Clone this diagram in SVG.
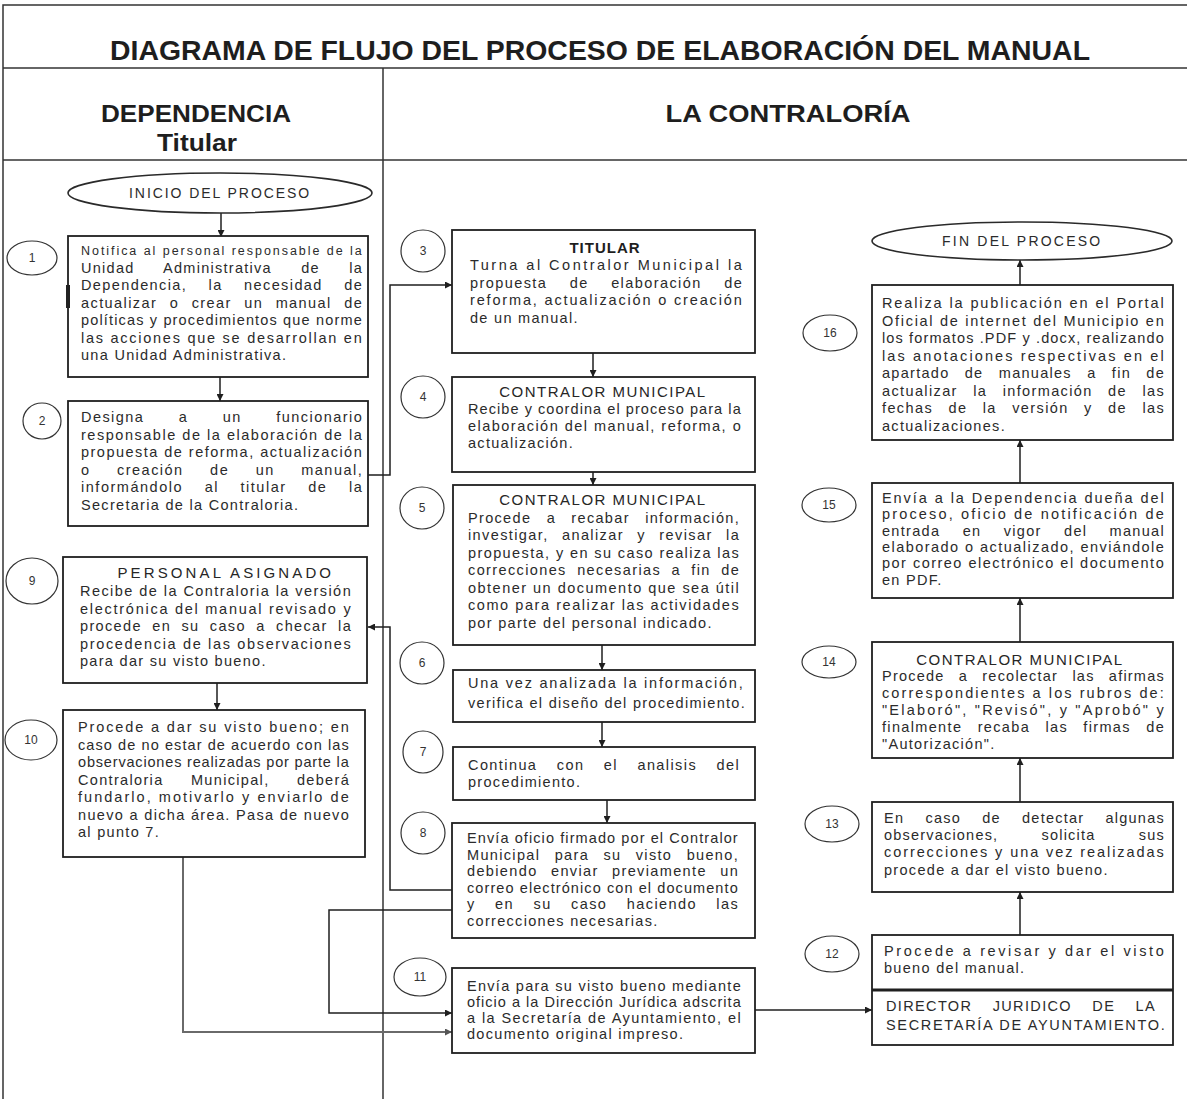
<svg xmlns="http://www.w3.org/2000/svg" width="1187" height="1099" viewBox="0 0 1187 1099">
<style>
.t{font-family:"Liberation Sans",Arial,sans-serif;font-size:14.5px;letter-spacing:1.3px;fill:#2b2b2b}
.ttl{font-family:"Liberation Sans",Arial,sans-serif;font-size:15px;letter-spacing:1.5px;fill:#262626;text-anchor:middle}
.h{font-family:"Liberation Sans",Arial,sans-serif;font-weight:bold;fill:#1e1e1e;text-anchor:middle}
.box{fill:#fff;stroke:#1f1f1f;stroke-width:1.8}
.ell{fill:#fff;stroke:#2a2a2a;stroke-width:1.6}
.circ{fill:none;stroke:#333;stroke-width:1.2}
.num{font-family:"Liberation Sans",Arial,sans-serif;font-size:12px;fill:#333;text-anchor:middle}
.conn{fill:none;stroke:#1f1f1f;stroke-width:1.5}
.gray{fill:none;stroke:#6a6a6a;stroke-width:2}
.frame{fill:none;stroke:#333;stroke-width:1.5}
</style>
<defs>
<marker id="ah" viewBox="0 0 10 10" refX="10" refY="5" markerWidth="7" markerHeight="7" markerUnits="userSpaceOnUse" orient="auto"><path d="M0,0 L10,5 L0,10 z" fill="#1f1f1f"/></marker>
<marker id="ahg" viewBox="0 0 10 10" refX="10" refY="5" markerWidth="7" markerHeight="7" markerUnits="userSpaceOnUse" orient="auto"><path d="M0,0 L10,5 L0,10 z" fill="#555"/></marker>
</defs>
<rect width="1187" height="1099" fill="#fff"/>

<g id="frame">
<rect class="frame" x="3" y="5" width="1200" height="1100"/>
<line class="frame" x1="3" y1="68" x2="1187" y2="68"/>
<line class="frame" x1="3" y1="160" x2="1187" y2="160"/>
<line class="frame" x1="383" y1="68" x2="383" y2="1099"/>
<text class="h" x="600" y="60" style="font-size:28px" textLength="980" lengthAdjust="spacingAndGlyphs">DIAGRAMA DE FLUJO DEL PROCESO DE ELABORACIÓN DEL MANUAL</text>
<text class="h" x="196" y="122" style="font-size:23px" textLength="190" lengthAdjust="spacingAndGlyphs">DEPENDENCIA</text>
<text class="h" x="197" y="151" style="font-size:23px" textLength="80" lengthAdjust="spacingAndGlyphs">Titular</text>
<text class="h" x="788" y="122" style="font-size:23px" textLength="245" lengthAdjust="spacingAndGlyphs">LA CONTRALORÍA</text>
</g>

<g id="connectors">
<path class="conn" d="M221,213 V237" marker-end="url(#ah)"/>
<path class="conn" d="M220,377 V401" marker-end="url(#ah)"/>
<path class="conn" d="M368,475 H390 V285 H452" marker-end="url(#ah)"/>
<path class="conn" d="M593,353 V377" marker-end="url(#ah)"/>
<path class="conn" d="M593,472 V485" marker-end="url(#ah)"/>
<path class="conn" d="M602,645 V670" marker-end="url(#ah)"/>
<path class="conn" d="M602,722 V747" marker-end="url(#ah)"/>
<path class="conn" d="M607,800 V823" marker-end="url(#ah)"/>
<path class="conn" d="M452,890 H390 V627 H368" marker-end="url(#ah)"/>
<path class="conn" d="M217,683 V710" marker-end="url(#ah)"/>
<path class="conn" d="M452,910 H329 V1013 H452" marker-end="url(#ah)"/>
<path class="gray" d="M183,857 V1032 H452" marker-end="url(#ahg)"/>
<path class="conn" d="M755,1010 H872" marker-end="url(#ah)"/>
<path class="conn" d="M1020,935 V892" marker-end="url(#ah)"/>
<path class="conn" d="M1020,802 V758" marker-end="url(#ah)"/>
<path class="conn" d="M1020,642 V598" marker-end="url(#ah)"/>
<path class="conn" d="M1020,483 V440" marker-end="url(#ah)"/>
<path class="conn" d="M1020,285 V260" marker-end="url(#ah)"/>
</g>

<g id="inicio">
<ellipse class="ell" cx="220" cy="193" rx="152" ry="20"/>
<text class="t" x="220" y="198" style="text-anchor:middle;letter-spacing:1.8px;font-size:14px" textLength="182" lengthAdjust="spacing">INICIO DEL PROCESO</text>
</g>

<g id="n1">
<ellipse class="circ" cx="32" cy="258" rx="25" ry="17"/><text class="num" x="32" y="262">1</text>
<rect class="box" x="68" y="236" width="300" height="141"/>
<rect x="66" y="285" width="4" height="23" fill="#222"/>
<text class="t" x="81" y="255" style="font-size:12.5px" textLength="282" lengthAdjust="spacing">Notifica al personal responsable de la</text>
<text class="t" x="81" y="272.5" style="word-spacing:24px" textLength="282" lengthAdjust="spacing">Unidad Administrativa de la</text>
<text class="t" x="81" y="290" style="word-spacing:16px" textLength="282" lengthAdjust="spacing">Dependencia, la necesidad de</text>
<text class="t" x="81" y="307.5" style="word-spacing:7px" textLength="282" lengthAdjust="spacing">actualizar o crear un manual de</text>
<text class="t" x="81" y="325" textLength="282" lengthAdjust="spacing">políticas y procedimientos que norme</text>
<text class="t" x="81" y="342.5" textLength="282" lengthAdjust="spacing">las acciones que se desarrollan en</text>
<text class="t" x="81" y="360">una Unidad Administrativa.</text>
</g>

<g id="n2">
<ellipse class="circ" cx="42" cy="421" rx="19" ry="18"/><text class="num" x="42" y="425">2</text>
<rect class="box" x="68" y="401" width="300" height="125"/>
<text class="t" x="81" y="422" style="word-spacing:29px" textLength="282" lengthAdjust="spacing">Designa a un funcionario</text>
<text class="t" x="81" y="439.5" textLength="282" lengthAdjust="spacing">responsable de la elaboración de la</text>
<text class="t" x="81" y="457" textLength="282" lengthAdjust="spacing">propuesta de reforma, actualización</text>
<text class="t" x="81" y="474.5" style="word-spacing:21px" textLength="282" lengthAdjust="spacing">o creación de un manual,</text>
<text class="t" x="81" y="492" style="word-spacing:16px" textLength="282" lengthAdjust="spacing">informándolo al titular de la</text>
<text class="t" x="81" y="509.5">Secretaria de la Contraloria.</text>
</g>

<g id="n9">
<ellipse class="circ" cx="32" cy="581" rx="26" ry="23"/><text class="num" x="32" y="585">9</text>
<rect class="box" x="63" y="557" width="304" height="126"/>
<text class="ttl" x="225" y="578" textLength="215" lengthAdjust="spacing">PERSONAL ASIGNADO</text>
<text class="t" x="80" y="596" textLength="272" lengthAdjust="spacing">Recibe de la Contraloria la versión</text>
<text class="t" x="80" y="613.5" textLength="272" lengthAdjust="spacing">electrónica del manual revisado y</text>
<text class="t" x="80" y="631" style="word-spacing:5px" textLength="272" lengthAdjust="spacing">procede en su caso a checar la</text>
<text class="t" x="80" y="648.5" textLength="272" lengthAdjust="spacing">procedencia de las observaciones</text>
<text class="t" x="80" y="666">para dar su visto bueno.</text>
</g>

<g id="n10">
<ellipse class="circ" cx="31" cy="740" rx="26" ry="20"/><text class="num" x="31" y="744">10</text>
<rect class="box" x="63" y="710" width="302" height="147"/>
<text class="t" x="78" y="732" textLength="272" lengthAdjust="spacing">Procede a dar su visto bueno; en</text>
<text class="t" x="78" y="749.5" textLength="272" lengthAdjust="spacing">caso de no estar de acuerdo con las</text>
<text class="t" x="78" y="767" textLength="272" lengthAdjust="spacing">observaciones realizadas por parte la</text>
<text class="t" x="78" y="784.5" style="word-spacing:22px" textLength="272" lengthAdjust="spacing">Contraloria Municipal, deberá</text>
<text class="t" x="78" y="802" textLength="272" lengthAdjust="spacing">fundarlo, motivarlo y enviarlo de</text>
<text class="t" x="78" y="819.5" textLength="272" lengthAdjust="spacing">nuevo a dicha área. Pasa de nuevo</text>
<text class="t" x="78" y="837">al punto 7.</text>
</g>

<g id="n3">
<ellipse class="circ" cx="423" cy="251" rx="22" ry="21"/><text class="num" x="423" y="255">3</text>
<rect class="box" x="452" y="230" width="303" height="123"/>
<text class="h" x="605" y="253" style="font-size:15px;letter-spacing:1px">TITULAR</text>
<text class="t" x="470" y="270" textLength="273" lengthAdjust="spacing">Turna al Contralor Municipal la</text>
<text class="t" x="470" y="287.5" style="word-spacing:17px" textLength="273" lengthAdjust="spacing">propuesta de elaboración de</text>
<text class="t" x="470" y="305" textLength="273" lengthAdjust="spacing">reforma, actualización o creación</text>
<text class="t" x="470" y="322.5">de un manual.</text>
</g>

<g id="n4">
<ellipse class="circ" cx="423" cy="397" rx="22" ry="21"/><text class="num" x="423" y="401">4</text>
<rect class="box" x="452" y="377" width="303" height="95"/>
<text class="ttl" x="603" y="397">CONTRALOR MUNICIPAL</text>
<text class="t" x="468" y="414" textLength="274" lengthAdjust="spacing">Recibe y coordina el proceso para la</text>
<text class="t" x="468" y="431" textLength="274" lengthAdjust="spacing">elaboración del manual, reforma, o</text>
<text class="t" x="468" y="448">actualización.</text>
</g>

<g id="n5">
<ellipse class="circ" cx="422" cy="508" rx="22" ry="21"/><text class="num" x="422" y="512">5</text>
<rect class="box" x="453" y="485" width="302" height="160"/>
<text class="ttl" x="603" y="505">CONTRALOR MUNICIPAL</text>
<text class="t" x="468" y="522.5" style="word-spacing:10px" textLength="272" lengthAdjust="spacing">Procede a recabar información,</text>
<text class="t" x="468" y="540" style="word-spacing:8px" textLength="272" lengthAdjust="spacing">investigar, analizar y revisar la</text>
<text class="t" x="468" y="557.5" textLength="272" lengthAdjust="spacing">propuesta, y en su caso realiza las</text>
<text class="t" x="468" y="575" style="word-spacing:5px" textLength="272" lengthAdjust="spacing">correcciones necesarias a fin de</text>
<text class="t" x="468" y="592.5" textLength="272" lengthAdjust="spacing">obtener un documento que sea útil</text>
<text class="t" x="468" y="610" textLength="272" lengthAdjust="spacing">como para realizar las actividades</text>
<text class="t" x="468" y="627.5">por parte del personal indicado.</text>
</g>

<g id="n6">
<ellipse class="circ" cx="422" cy="663" rx="22" ry="21"/><text class="num" x="422" y="667">6</text>
<rect class="box" x="453" y="670" width="302" height="52"/>
<text class="t" x="468" y="688" textLength="276" lengthAdjust="spacing">Una vez analizada la información,</text>
<text class="t" x="468" y="708" textLength="278" lengthAdjust="spacing">verifica el diseño del procedimiento.</text>
</g>

<g id="n7">
<ellipse class="circ" cx="423" cy="752" rx="20" ry="21"/><text class="num" x="423" y="756">7</text>
<rect class="box" x="453" y="747" width="302" height="53"/>
<text class="t" x="468" y="770" style="word-spacing:14px" textLength="272" lengthAdjust="spacing">Continua con el analisis del</text>
<text class="t" x="468" y="787">procedimiento.</text>
</g>

<g id="n8">
<ellipse class="circ" cx="423" cy="833" rx="22" ry="21"/><text class="num" x="423" y="837">8</text>
<rect class="box" x="452" y="823" width="303" height="115"/>
<text class="t" x="467" y="843" textLength="272" lengthAdjust="spacing">Envía oficio firmado por el Contralor</text>
<text class="t" x="467" y="859.5" style="word-spacing:9px" textLength="272" lengthAdjust="spacing">Municipal para su visto bueno,</text>
<text class="t" x="467" y="876" style="word-spacing:8px" textLength="272" lengthAdjust="spacing">debiendo enviar previamente un</text>
<text class="t" x="467" y="892.5" textLength="272" lengthAdjust="spacing">correo electrónico con el documento</text>
<text class="t" x="467" y="909" style="word-spacing:14px" textLength="272" lengthAdjust="spacing">y en su caso haciendo las</text>
<text class="t" x="467" y="925.5">correcciones necesarias.</text>
</g>

<g id="n11">
<ellipse class="circ" cx="420" cy="977" rx="26" ry="19"/><text class="num" x="420" y="981">11</text>
<rect class="box" x="452" y="968" width="303" height="85"/>
<text class="t" x="467" y="991" textLength="275" lengthAdjust="spacing">Envía para su visto bueno mediante</text>
<text class="t" x="467" y="1007" textLength="275" lengthAdjust="spacing">oficio a la Dirección Jurídica adscrita</text>
<text class="t" x="467" y="1023" textLength="275" lengthAdjust="spacing">a la Secretaría de Ayuntamiento, el</text>
<text class="t" x="467" y="1039">documento original impreso.</text>
</g>

<g id="fin">
<ellipse class="ell" cx="1022" cy="241" rx="150" ry="19"/>
<text class="t" x="1022" y="246" style="text-anchor:middle;letter-spacing:1.8px;font-size:14px" textLength="160" lengthAdjust="spacing">FIN DEL PROCESO</text>
</g>

<g id="n16">
<ellipse class="circ" cx="830" cy="333" rx="27" ry="18"/><text class="num" x="830" y="337">16</text>
<rect class="box" x="872" y="285" width="301" height="155"/>
<text class="t" x="882" y="308" textLength="283" lengthAdjust="spacing">Realiza la publicación en el Portal</text>
<text class="t" x="882" y="325.5" textLength="283" lengthAdjust="spacing">Oficial de internet del Municipio en</text>
<text class="t" x="882" y="343" textLength="283" lengthAdjust="spacing">los formatos .PDF y .docx, realizando</text>
<text class="t" x="882" y="360.5" textLength="283" lengthAdjust="spacing">las anotaciones respectivas en el</text>
<text class="t" x="882" y="378" style="word-spacing:10px" textLength="283" lengthAdjust="spacing">apartado de manuales a fin de</text>
<text class="t" x="882" y="395.5" style="word-spacing:10px" textLength="283" lengthAdjust="spacing">actualizar la información de las</text>
<text class="t" x="882" y="413" style="word-spacing:10px" textLength="283" lengthAdjust="spacing">fechas de la versión y de las</text>
<text class="t" x="882" y="430.5">actualizaciones.</text>
</g>

<g id="n15">
<ellipse class="circ" cx="829" cy="505" rx="27" ry="17"/><text class="num" x="829" y="509">15</text>
<rect class="box" x="872" y="483" width="301" height="115"/>
<text class="t" x="882" y="503" textLength="283" lengthAdjust="spacing">Envía a la Dependencia dueña del</text>
<text class="t" x="882" y="519.3" textLength="283" lengthAdjust="spacing">proceso, oficio de notificación de</text>
<text class="t" x="882" y="535.6" style="word-spacing:17px" textLength="283" lengthAdjust="spacing">entrada en vigor del manual</text>
<text class="t" x="882" y="551.9" textLength="283" lengthAdjust="spacing">elaborado o actualizado, enviándole</text>
<text class="t" x="882" y="568.2" textLength="283" lengthAdjust="spacing">por correo electrónico el documento</text>
<text class="t" x="882" y="584.5">en PDF.</text>
</g>

<g id="n14">
<ellipse class="circ" cx="829" cy="662" rx="27" ry="16"/><text class="num" x="829" y="666">14</text>
<rect class="box" x="872" y="642" width="301" height="116"/>
<text class="ttl" x="1020" y="664.5">CONTRALOR MUNICIPAL</text>
<text class="t" x="882" y="681" style="word-spacing:9px" textLength="283" lengthAdjust="spacing">Procede a recolectar las afirmas</text>
<text class="t" x="882" y="698" textLength="283" lengthAdjust="spacing">correspondientes a los rubros de:</text>
<text class="t" x="882" y="715" textLength="283" lengthAdjust="spacing">"Elaboró", "Revisó", y "Aprobó" y</text>
<text class="t" x="882" y="732" style="word-spacing:10px" textLength="283" lengthAdjust="spacing">finalmente recaba las firmas de</text>
<text class="t" x="882" y="749">"Autorización".</text>
</g>

<g id="n13">
<ellipse class="circ" cx="832" cy="824" rx="27" ry="18"/><text class="num" x="832" y="828">13</text>
<rect class="box" x="872" y="802" width="301" height="90"/>
<text class="t" x="884" y="823" style="word-spacing:16px" textLength="281" lengthAdjust="spacing">En caso de detectar algunas</text>
<text class="t" x="884" y="840" style="word-spacing:38px" textLength="281" lengthAdjust="spacing">observaciones, solicita sus</text>
<text class="t" x="884" y="857" textLength="281" lengthAdjust="spacing">correcciones y una vez realizadas</text>
<text class="t" x="884" y="874.5">procede a dar el visto bueno.</text>
</g>

<g id="n12">
<ellipse class="circ" cx="832" cy="954" rx="27" ry="18"/><text class="num" x="832" y="958">12</text>
<rect class="box" x="872" y="935" width="301" height="110"/>
<line x1="872" y1="990" x2="1173" y2="990" stroke="#1f1f1f" stroke-width="3"/>
<text class="t" x="884" y="956" textLength="281" lengthAdjust="spacing">Procede a revisar y dar el visto</text>
<text class="t" x="884" y="973">bueno del manual.</text>
<text class="t" x="886" y="1010.5" style="word-spacing:15px" textLength="270" lengthAdjust="spacing">DIRECTOR JURIDICO DE LA</text>
<text class="t" x="886" y="1029.5" textLength="280" lengthAdjust="spacing">SECRETARÍA DE AYUNTAMIENTO.</text>
</g>
</svg>
